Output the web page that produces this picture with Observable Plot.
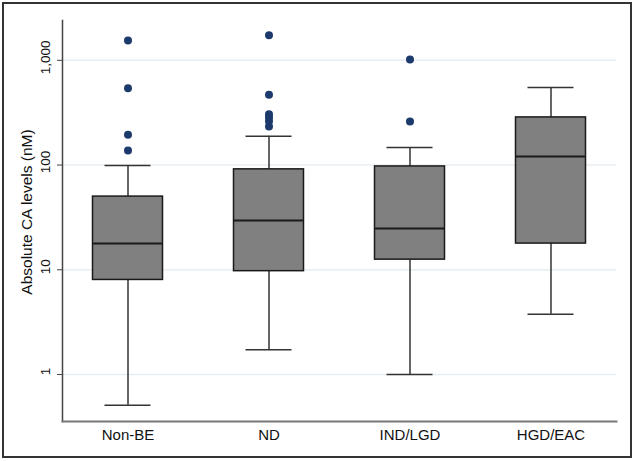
<!DOCTYPE html>
<html>
<head>
<meta charset="utf-8">
<script src="https://cdn.jsdelivr.net/npm/d3@7"></script>
<script src="https://cdn.jsdelivr.net/npm/@observablehq/plot@0.6"></script>
<style>
  html, body { margin: 0; padding: 0; background: #fff; }
  #wrap { position: relative; width: 635px; height: 461px; }
  #border { position: absolute; left: 2px; top: 2px; width: 626px; height: 452px; border: 2px solid #333; pointer-events: none; }
  svg { font-family: "Liberation Sans", Arial, sans-serif; }
</style>
</head>
<body>
<div id="wrap"><div id="border"></div></div>
<script>
// Data
const categories = ["Non-BE", "ND", "IND/LGD", "HGD/EAC"];
const lowWhisker = [0.51, 1.72, 1.0, 3.77];
const q1 = [8.0, 9.7, 12.5, 17.8];
const median = [17.8, 29.6, 24.8, 121];
const q3 = [50, 91, 97, 285];
const highWhisker = [99, 188, 147, 550];
const outlierCategory = ["Non-BE", "Non-BE", "Non-BE", "Non-BE", "ND", "ND", "ND", "ND", "ND", "ND", "IND/LGD", "IND/LGD"];
const outlierValue = [1550, 540, 195, 138, 1740, 470, 305, 284, 262, 234, 1020, 261];
const yTicks = [1, 10, 100, 1000];
const yDomain = [0.356, 2400];
const yLabel = "Absolute CA levels (nM)";

const boxes = categories.map((c, i) => ({cat: c, lo: lowWhisker[i], q1: q1[i], med: median[i], q3: q3[i], hi: highWhisker[i]}));
const outliers = outlierCategory.map((c, i) => ({cat: c, v: outlierValue[i]}));

const boxInset = 35.5, capInset = 47.5;
const plot = Plot.plot({
  width: 635,
  height: 461,
  marginLeft: 62,
  marginRight: 19,
  marginTop: 20,
  marginBottom: 40,
  style: {fontFamily: "Liberation Sans, Arial, sans-serif", background: "transparent"},
  x: {domain: categories, range: [56.5, 620.5], padding: 0, label: null},
  y: {type: "log", domain: yDomain, label: null},
  marks: [
    Plot.ruleY(yTicks, {stroke: "#e6eef2", strokeWidth: 1.5}),
    Plot.ruleX(boxes, {x: "cat", y1: "q3", y2: "hi", stroke: "#333", strokeWidth: 1.5}),
    Plot.ruleX(boxes, {x: "cat", y1: "lo", y2: "q1", stroke: "#333", strokeWidth: 1.5}),
    Plot.tickY(boxes, {x: "cat", y: "hi", stroke: "#333", strokeWidth: 1.5, insetLeft: capInset, insetRight: capInset}),
    Plot.tickY(boxes, {x: "cat", y: "lo", stroke: "#333", strokeWidth: 1.5, insetLeft: capInset, insetRight: capInset}),
    Plot.barY(boxes, {x: "cat", y1: "q1", y2: "q3", fill: "#808080", stroke: "#1a1a1a", strokeWidth: 1.5, insetLeft: boxInset, insetRight: boxInset}),
    Plot.tickY(boxes, {x: "cat", y: "med", stroke: "#1a1a1a", strokeWidth: 2, insetLeft: boxInset, insetRight: boxInset}),
    Plot.dot(outliers, {x: "cat", y: "v", r: 4, fill: "#1c3a6b", stroke: "none"}),
    Plot.frame({anchor: "left", stroke: "#444", strokeWidth: 1.5}),
    Plot.frame({anchor: "bottom", stroke: "#777", strokeWidth: 2}),
    Plot.axisY({ticks: yTicks, tickSize: 5, tickFormat: () => "", stroke: "#444", label: null}),
    Plot.text(yTicks, {y: d => d, text: d3.format(","), rotate: -90, frameAnchor: "left", textAnchor: "middle", dx: -17, dy: -3, fontSize: 13.5, fill: "#111"}),
    Plot.text([yLabel], {frameAnchor: "left", textAnchor: "middle", dx: -35, dy: -9, rotate: -90, fontSize: 15.5, fill: "#111"}),
    Plot.axisX({tickSize: 0, tickPadding: 8, fontSize: 15, fill: "#111"})
  ]
});
document.getElementById("wrap").prepend(plot);
</script>
</body>
</html>
